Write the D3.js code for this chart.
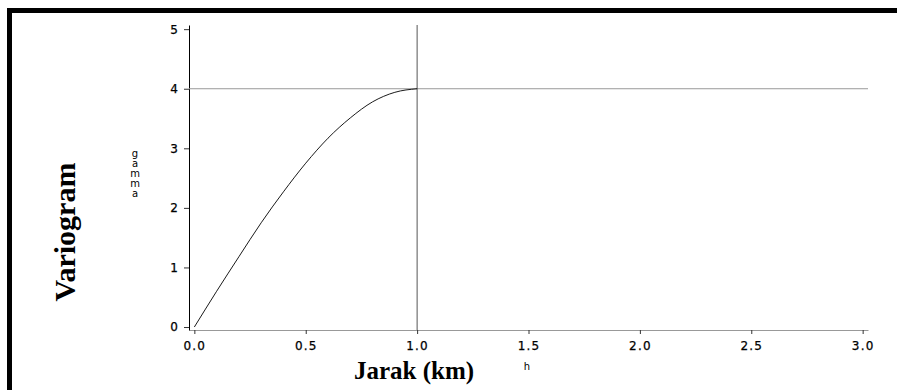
<!DOCTYPE html>
<html>
<head>
<meta charset="utf-8">
<script src="https://cdn.jsdelivr.net/npm/d3@7"></script>
<style>
  body { margin: 0; background: #fff; }
  svg text { fill: #000; }
</style>
</head>
<body>
<div id="chart"></div>
<script>
// distance (km) and fitted variogram values
const lagKm = [0, 0.1, 0.2, 0.3, 0.4, 0.5, 0.6, 0.7, 0.8, 0.9, 1.0];
const gammaValues = [0, 0.60, 1.18, 1.75, 2.27, 2.75, 3.17, 3.51, 3.78, 3.94, 4.0];
const sill = 4;
const rangeKm = 1;
const xTicks = [0, 0.5, 1.0, 1.5, 2.0, 2.5, 3.0];
const yTicks = [0, 1, 2, 3, 4, 5];

const width = 897, height = 390;
const plotLeft = 189, plotRight = 868, plotTop = 25, plotBottom = 330;

const svg = d3.select("#chart")
  .append("svg")
  .attr("width", width)
  .attr("height", height);

// frame: heavy black top and left edges
svg.append("rect").attr("x", 7).attr("y", 8).attr("width", width - 7).attr("height", 5).attr("fill", "#000");
svg.append("rect").attr("x", 7).attr("y", 8).attr("width", 5).attr("height", height - 8).attr("fill", "#000");

const x = d3.scaleLinear().domain([-0.024, 3.024]).range([plotLeft, plotRight]);
const y = d3.scaleLinear().domain([-0.05, 5.07]).range([plotBottom, plotTop]);

// x axis
const gx = svg.append("g")
  .attr("transform", `translate(0,${plotBottom})`)
  .call(d3.axisBottom(x).tickValues(xTicks).tickFormat(d3.format(".1f")).tickSize(4).tickSizeOuter(0).tickPadding(7));
gx.select(".domain").attr("stroke", "#999");
gx.selectAll(".tick line").attr("stroke", "#333");
gx.selectAll("text")
  .attr("font-family", "DejaVu Sans")
  .attr("font-size", 12)
  .attr("letter-spacing", 1.2)
  .attr("stroke", "#000")
  .attr("stroke-width", 0.25);

// y axis
const gy = svg.append("g")
  .attr("transform", `translate(${plotLeft},0)`)
  .call(d3.axisLeft(y).tickValues(yTicks).tickFormat(d3.format("d")).tickSize(5).tickSizeOuter(0).tickPadding(6));
gy.select(".domain").attr("stroke", "#000");
gy.selectAll(".tick line").attr("stroke", "#333");
gy.selectAll("text")
  .attr("font-family", "DejaVu Sans")
  .attr("font-size", 12)
  .attr("stroke", "#000")
  .attr("stroke-width", 0.25);

// sill and range reference lines
svg.append("line")
  .attr("x1", plotLeft).attr("x2", plotRight)
  .attr("y1", y(sill)).attr("y2", y(sill))
  .attr("stroke", "#999").attr("stroke-width", 1);
svg.append("line")
  .attr("x1", x(rangeKm)).attr("x2", x(rangeKm))
  .attr("y1", plotTop).attr("y2", plotBottom)
  .attr("stroke", "#555").attr("stroke-width", 1);

// model curve
const line = d3.line()
  .x((d, i) => x(lagKm[i]))
  .y(d => y(d))
  .curve(d3.curveMonotoneX);
svg.append("path")
  .datum(gammaValues)
  .attr("d", line)
  .attr("fill", "none")
  .attr("stroke", "#000")
  .attr("stroke-width", 0.9);

// small default axis labels
const gammaLetters = "gamma".split("");
svg.selectAll("text.gl")
  .data(gammaLetters)
  .enter()
  .append("text")
  .attr("class", "gl")
  .attr("x", 135)
  .attr("y", (d, i) => 157 + i * 10)
  .attr("text-anchor", "middle")
  .attr("font-family", "DejaVu Sans")
  .attr("font-size", 10)
  .text(d => d);

svg.append("text")
  .attr("x", 527).attr("y", 370)
  .attr("text-anchor", "middle")
  .attr("font-family", "DejaVu Sans")
  .attr("font-size", 10)
  .text("h");

// main titles
svg.append("text")
  .attr("transform", "translate(75,232) rotate(-90)")
  .attr("text-anchor", "middle")
  .attr("font-family", "Liberation Serif")
  .attr("font-weight", "bold")
  .attr("font-size", 30)
  .text("Variogram");

svg.append("text")
  .attr("x", 414).attr("y", 379)
  .attr("text-anchor", "middle")
  .attr("font-family", "Liberation Serif")
  .attr("font-weight", "bold")
  .attr("font-size", 25)
  .text("Jarak (km)");
</script>
</body>
</html>
